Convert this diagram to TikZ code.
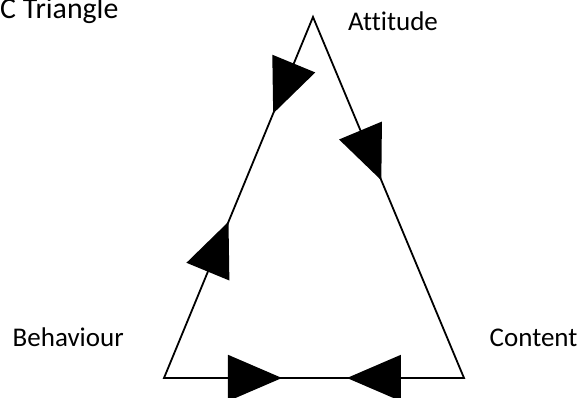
\documentclass[tikz,border=0pt]{standalone}
\usepackage{fontspec}
\setmainfont{Carlito}[Ligatures=NoCommon]
\usetikzlibrary{positioning, arrows.meta, decorations.markings}

\begin{document}
\begin{tikzpicture}[x=1pt, y=1pt,
    sideLine/.style={draw=black, line width=1.8pt, line join=miter},
    cornerText/.style={inner sep=0pt, anchor=base west, font=\fontsize{27}{32}\selectfont},
    bigTip/.tip={Triangle[length=54pt, width=46pt]},
]
\useasboundingbox (0,0) rectangle (581,398);
% corners of the triangle
\coordinate (attVtx) at (313,381);
\coordinate (behVtx) at (164,20);
\coordinate (conVtx) at (464,20);
% labels
\node[cornerText, font=\fontsize{29.8}{34}\selectfont] (title) at (0,379.3) {C Triangle};
\node[cornerText] (attText) at (348,367.3) {Attitude};
\node[cornerText] (behText) at (12.5,51.3) {Behaviour};
\node[cornerText] (conText) at (489.5,51.3) {Content};
% the triangle with its arrows
\draw[sideLine, postaction={decorate}, decoration={markings,
        mark=at position 104.4pt with {\arrow{bigTip}},
        mark=at position 221.5pt with {\arrowreversed{bigTip}},
        mark=at position 508.5pt with {\arrow{bigTip}},
        mark=at position 573.5pt with {\arrowreversed{bigTip}},
        mark=at position 904.8pt with {\arrowreversed{bigTip}}}]
    (attVtx) -- (behVtx) -- (conVtx) -- cycle;
\end{tikzpicture}
\end{document}
